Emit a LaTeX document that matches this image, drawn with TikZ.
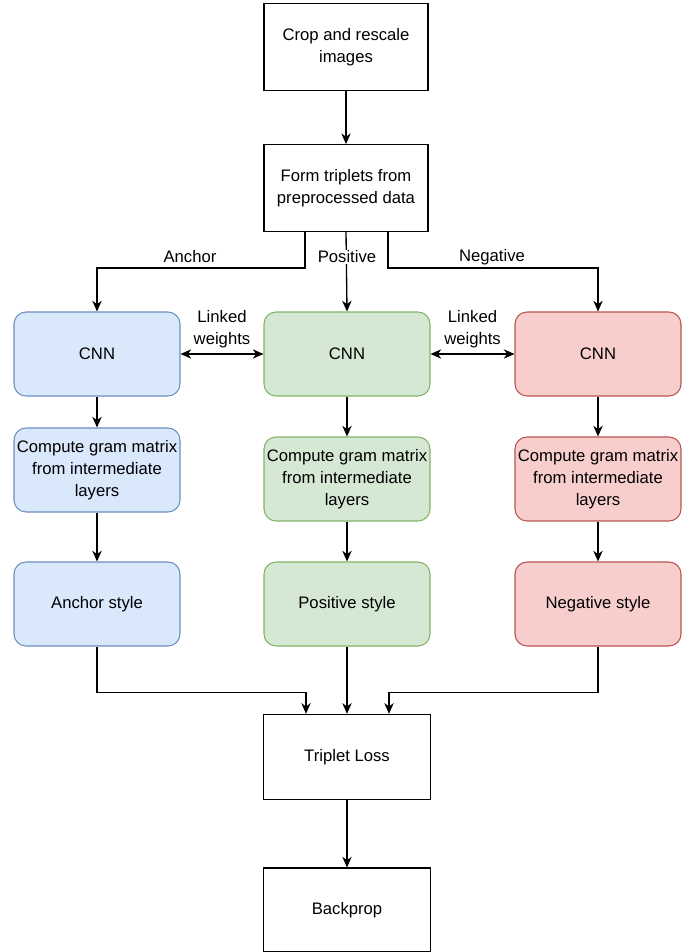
\documentclass[tikz,border=0pt]{standalone}
\usepackage{fontspec}
\setmainfont{Liberation Sans}
\usetikzlibrary{arrows.meta,calc}
\definecolor{blueFill}{HTML}{DAE8FC}
\definecolor{blueLine}{HTML}{6C8EBF}
\definecolor{greenFill}{HTML}{D5E8D4}
\definecolor{greenLine}{HTML}{82B366}
\definecolor{redFill}{HTML}{F8CECC}
\definecolor{redLine}{HTML}{B85450}
\begin{document}
\begin{tikzpicture}[x=0.75pt,y=-0.75pt,
  every node/.style={font=\fontsize{12.5}{16.5}\selectfont,align=center},
  plainbox/.style={draw=black,line width=0.8pt,minimum width=123pt,minimum height=65pt,inner sep=2pt},
  roundbox/.style={draw,line width=0.8pt,rounded corners=9pt,minimum width=124.5pt,minimum height=63pt,inner sep=2pt},
  anchorbox/.style={roundbox,fill=blueFill,draw=blueLine},
  posbox/.style={roundbox,fill=greenFill,draw=greenLine},
  negbox/.style={roundbox,fill=redFill,draw=redLine},
  arr/.style={draw=black,line width=1pt,-{Stealth[length=8pt,width=7pt,inset=2.5pt]}},
  arrboth/.style={draw=black,line width=1pt,{Stealth[length=8pt,width=7pt,inset=2.5pt]}-{Stealth[length=8pt,width=7pt,inset=2.5pt]}},
  lbl/.style={inner sep=1pt}]
\useasboundingbox (0,0) rectangle (697,952);
% preprocessing
\node[plainbox] (crop) at (346,47) {Crop and rescale\\images};
\node[plainbox] (form) at (346,188) {Form triplets from\\preprocessed data};
% three branches
\node[anchorbox] (cnnA) at (97,354) {CNN};
\node[posbox] (cnnP) at (347,354) {CNN};
\node[negbox] (cnnN) at (598,354) {CNN};
\node[anchorbox] (gramA) at (97,470) {Compute gram matrix\\from intermediate\\layers};
\node[posbox] (gramP) at (347,479) {Compute gram matrix\\from intermediate\\layers};
\node[negbox] (gramN) at (598,479) {Compute gram matrix\\from intermediate\\layers};
\node[anchorbox] (styleA) at (97,604) {Anchor style};
\node[posbox] (styleP) at (347,604) {Positive style};
\node[negbox] (styleN) at (598,604) {Negative style};
% loss
\node[plainbox,minimum width=125pt,minimum height=64pt] (loss) at (347,757) {Triplet Loss};
\node[plainbox,minimum width=125pt,minimum height=63pt] (back) at (347,910) {Backprop};
% connectors
\draw[arr] (crop) -- (form);
\draw[arr] ($(form.south)+(-41,0)$) -- ++(0,36) -| (cnnA.north);
\draw[arr] (form.south) -- (cnnP.north);
\draw[arr] ($(form.south)+(42,0)$) -- ++(0,36) -| (cnnN.north);
\node[lbl] (lblA) at (190,257) {Anchor};
\node[lbl,fill=white] (lblP) at (347,257) {Positive};
\node[lbl] (lblN) at (492,257) {Negative};
\draw[arrboth] (cnnA.east) -- node[above=3pt,lbl] (linkA) {Linked\\weights} (cnnP.west);
\draw[arrboth] (cnnP.east) -- node[above=3pt,lbl] (linkN) {Linked\\weights} (cnnN.west);
\draw[arr] (cnnA) -- (gramA);
\draw[arr] (cnnP) -- (gramP);
\draw[arr] (cnnN) -- (gramN);
\draw[arr] (gramA) -- (styleA);
\draw[arr] (gramP) -- (styleP);
\draw[arr] (gramN) -- (styleN);
\draw[arr] (styleA.south) -- ++(0,46) -| ($(loss.north)+(-41,0)$);
\draw[arr] (styleP) -- (loss);
\draw[arr] (styleN.south) -- ++(0,46) -| ($(loss.north)+(42,0)$);
\draw[arr] (loss) -- (back);
\end{tikzpicture}
\end{document}
